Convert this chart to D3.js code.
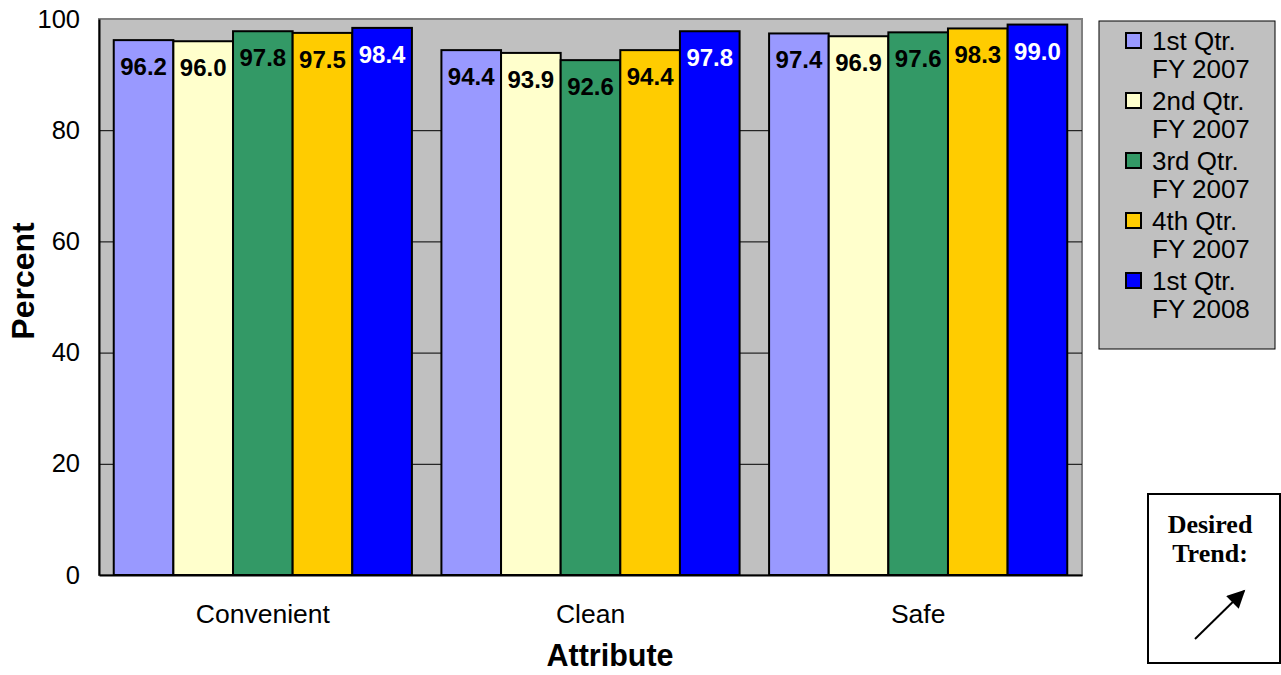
<!DOCTYPE html>
<html>
<head>
<meta charset="utf-8">
<script src="https://cdn.jsdelivr.net/npm/d3@7"></script>
<style>
  body { margin: 0; background: #ffffff; }
  svg { display: block; font-family: Arial, "Liberation Sans", sans-serif; }
</style>
</head>
<body>
<div id="chart"></div>
<script>
"use strict";

const categories = ["Convenient", "Clean", "Safe"];
const seriesNames = ["1st Qtr. FY 2007", "2nd Qtr. FY 2007", "3rd Qtr. FY 2007", "4th Qtr. FY 2007", "1st Qtr. FY 2008"];
const seriesLines = [["1st Qtr.", "FY 2007"], ["2nd Qtr.", "FY 2007"], ["3rd Qtr.", "FY 2007"], ["4th Qtr.", "FY 2007"], ["1st Qtr.", "FY 2008"]];
const q1fy07 = [96.2, 94.4, 97.4];
const q2fy07 = [96.0, 93.9, 96.9];
const q3fy07 = [97.8, 92.6, 97.6];
const q4fy07 = [97.5, 94.4, 98.3];
const q1fy08 = [98.4, 97.8, 99.0];
const yTicks = [0, 20, 40, 60, 80, 100];
const colors = ["#9999FF", "#FFFFCC", "#339966", "#FFCC00", "#0000FF"];
const labelColors = ["#000", "#000", "#000", "#000", "#fff"];

const seriesValues = [q1fy07, q2fy07, q3fy07, q4fy07, q1fy08];

const width = 1281,
    height = 675;
const plot = { left: 99, right: 1082, top: 19, bottom: 575 };

const svg = d3.select("#chart").append("svg")
    .attr("width", width)
    .attr("height", height);

const x0 = d3.scaleBand()
    .domain(categories)
    .range([plot.left, plot.right])
    .paddingInner(0.09)
    .paddingOuter(0.045);

const x1 = d3.scaleBand()
    .domain(seriesNames)
    .range([0, x0.bandwidth()]);

const y = d3.scaleLinear()
    .domain([0, 100])
    .range([plot.bottom, plot.top]);

// plot background
svg.append("rect")
    .attr("x", plot.left)
    .attr("y", plot.top)
    .attr("width", plot.right - plot.left)
    .attr("height", plot.bottom - plot.top)
    .attr("fill", "#C0C0C0")
    .attr("stroke", "#808080")
    .attr("stroke-width", 2);

// gridlines
const grid = svg.append("g")
    .attr("transform", `translate(${plot.left},0)`)
    .call(d3.axisLeft(y).tickValues(yTicks.slice(1, -1)).tickSize(-(plot.right - plot.left)).tickFormat(""));
grid.select(".domain").remove();
grid.selectAll("line").attr("stroke", "#000").attr("stroke-width", 1);

// bars
const groups = svg.append("g").selectAll("g")
    .data(categories)
    .join("g")
    .attr("transform", (d) => `translate(${x0(d)},0)`);

groups.selectAll("rect")
    .data((d, ci) => seriesNames.map((s, si) => ({ s: s, si: si, v: seriesValues[si][ci] })))
    .join("rect")
    .attr("x", (d) => x1(d.s))
    .attr("y", (d) => y(d.v))
    .attr("width", x1.bandwidth())
    .attr("height", (d) => y(0) - y(d.v))
    .attr("fill", (d) => colors[d.si])
    .attr("stroke", "#000")
    .attr("stroke-width", 2);

groups.selectAll("text")
    .data((d, ci) => seriesNames.map((s, si) => ({ s: s, si: si, v: seriesValues[si][ci] })))
    .join("text")
    .attr("x", (d) => x1(d.s) + x1.bandwidth() / 2)
    .attr("y", (d) => y(d.v) + 35)
    .attr("text-anchor", "middle")
    .attr("font-size", 24)
    .attr("font-weight", "bold")
    .attr("fill", (d) => labelColors[d.si])
    .text((d) => d.v.toFixed(1));

// axes
const yAxis = svg.append("g")
    .attr("transform", `translate(${plot.left},0)`)
    .call(d3.axisLeft(y).tickValues(yTicks).tickSize(0).tickPadding(19));
yAxis.select(".domain").attr("stroke", "#000").attr("stroke-width", 2);
yAxis.selectAll("text").attr("font-size", 25.5).attr("fill", "#000").attr("font-family", null);

const xAxis = svg.append("g")
    .attr("transform", `translate(0,${plot.bottom})`)
    .call(d3.axisBottom(x0).tickSize(0).tickPadding(29));
xAxis.select(".domain").attr("stroke", "#000").attr("stroke-width", 2);
xAxis.selectAll("text").attr("font-size", 26.5).attr("fill", "#000").attr("font-family", null);

// axis titles
svg.append("text")
    .attr("transform", "translate(34,281) rotate(-90)")
    .attr("text-anchor", "middle")
    .attr("font-size", 32)
    .attr("font-weight", "bold")
    .text("Percent");

svg.append("text")
    .attr("x", 610)
    .attr("y", 666)
    .attr("text-anchor", "middle")
    .attr("font-size", 30.5)
    .attr("font-weight", "bold")
    .text("Attribute");

// legend
const legend = svg.append("g");
legend.append("rect")
    .attr("x", 1099)
    .attr("y", 21)
    .attr("width", 176)
    .attr("height", 328)
    .attr("fill", "#C0C0C0")
    .attr("stroke", "#000")
    .attr("stroke-width", 1);

const items = legend.selectAll("g")
    .data(seriesNames)
    .join("g")
    .attr("transform", (d, i) => `translate(1126,${33 + i * 60})`);

items.append("rect")
    .attr("width", 15)
    .attr("height", 15)
    .attr("fill", (d, i) => colors[i])
    .attr("stroke", "#000")
    .attr("stroke-width", 2);

items.append("text")
    .attr("x", 26)
    .attr("y", 17)
    .attr("font-size", 26)
    .selectAll("tspan")
    .data((d, i) => seriesLines[i])
    .join("tspan")
    .attr("x", 26)
    .attr("dy", (d, j) => j === 0 ? 0 : 28)
    .text((d) => d);

// desired trend box
const trend = svg.append("g");
trend.append("rect")
    .attr("x", 1148)
    .attr("y", 494)
    .attr("width", 132)
    .attr("height", 169)
    .attr("fill", "#fff")
    .attr("stroke", "#000")
    .attr("stroke-width", 2);

trend.append("text")
    .attr("x", 1210)
    .attr("y", 533)
    .attr("text-anchor", "middle")
    .attr("font-family", "'Liberation Serif', 'Times New Roman', serif")
    .attr("font-weight", "bold")
    .attr("font-size", 26)
    .selectAll("tspan")
    .data(["Desired", "Trend:"])
    .join("tspan")
    .attr("x", 1210)
    .attr("dy", (d, j) => j === 0 ? 0 : 29)
    .text((d) => d);

svg.append("defs").append("marker")
    .attr("id", "arrowhead")
    .attr("viewBox", "0 0 10 10")
    .attr("refX", 9)
    .attr("refY", 5)
    .attr("markerUnits", "userSpaceOnUse")
    .attr("markerWidth", 24)
    .attr("markerHeight", 18)
    .attr("orient", "auto")
    .append("path")
    .attr("d", "M0,0 L10,5 L0,10 Z")
    .attr("fill", "#000");

trend.append("line")
    .attr("x1", 1195)
    .attr("y1", 639)
    .attr("x2", 1244)
    .attr("y2", 591)
    .attr("stroke", "#000")
    .attr("stroke-width", 2)
    .attr("marker-end", "url(#arrowhead)");
</script>
</body>
</html>
